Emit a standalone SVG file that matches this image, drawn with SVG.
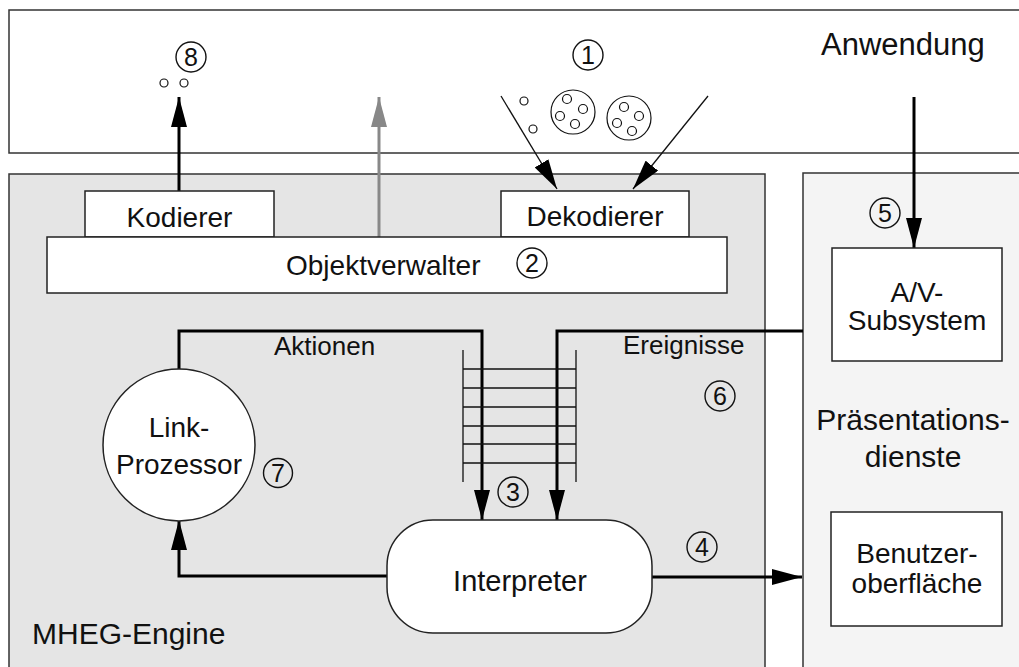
<svg xmlns="http://www.w3.org/2000/svg" width="1019" height="667" viewBox="0 0 1019 667">
  <style>
    text { font-family: "Liberation Sans", Arial, sans-serif; fill: #111; }
    .area { stroke: #333; stroke-width: 1.5; }
    .box { fill: #fff; stroke: #222; stroke-width: 1.5; }
    .lbl { font-size: 28px; text-anchor: middle; }
    .flow { fill: none; stroke: #000; stroke-width: 3; }
    .thin { fill: none; stroke: #111; stroke-width: 1.3; }
    .num circle { fill: none; stroke: #111; stroke-width: 1.4; }
    .num text { font-size: 25px; text-anchor: middle; }
    .dot { fill: #fff; stroke: #111; stroke-width: 1.2; }
  </style>
  <defs>
    <marker id="head" markerUnits="userSpaceOnUse" markerWidth="30" markerHeight="16" refX="30" refY="8" orient="auto" viewBox="0 0 30 16">
      <path d="M0,0 L30,8 L0,16 Z" fill="#000"/>
    </marker>
    <marker id="headGray" markerUnits="userSpaceOnUse" markerWidth="30" markerHeight="16" refX="30" refY="8" orient="auto" viewBox="0 0 30 16">
      <path d="M0,0 L30,8 L0,16 Z" fill="#888"/>
    </marker>
  </defs>

  <rect width="1019" height="667" fill="#fff"/>

  <!-- layers -->
  <g id="anwendung">
    <rect class="area" x="9" y="10" width="1040" height="143" fill="#fff"/>
    <text x="821" y="55" style="font-size:31px">Anwendung</text>
  </g>
  <g id="mheg-engine">
    <rect class="area" x="9" y="174" width="756" height="520" fill="#e5e5e5"/>
    <text x="32" y="644" style="font-size:30px">MHEG-Engine</text>
  </g>
  <g id="praesentationsdienste">
    <rect class="area" x="803" y="173" width="250" height="520" fill="#f4f4f4"/>
    <text class="lbl" x="913" y="430" style="font-size:30px">Präsentations-</text>
    <text class="lbl" x="913" y="467" style="font-size:30px">dienste</text>
  </g>

  <!-- data units entering the engine -->
  <g id="datenobjekte">
    <circle class="dot" cx="524" cy="101" r="4"/>
    <circle class="dot" cx="533" cy="129" r="4"/>
    <circle class="dot" cx="573" cy="112" r="22"/>
    <circle class="dot" cx="567" cy="99" r="4.5"/>
    <circle class="dot" cx="583" cy="109" r="4.5"/>
    <circle class="dot" cx="560" cy="116" r="4.5"/>
    <circle class="dot" cx="575" cy="124" r="4.5"/>
    <circle class="dot" cx="629" cy="118" r="22"/>
    <circle class="dot" cx="624" cy="107" r="4.5"/>
    <circle class="dot" cx="639" cy="116" r="4.5"/>
    <circle class="dot" cx="617" cy="123" r="4.5"/>
    <circle class="dot" cx="632" cy="131" r="4.5"/>
    <circle class="dot" cx="164" cy="83" r="4"/>
    <circle class="dot" cx="184" cy="83" r="4"/>
  </g>

  <!-- connectors -->
  <g id="connectors">
    <line class="thin" x1="501" y1="96" x2="557" y2="189" marker-end="url(#head)"/>
    <line class="thin" x1="708" y1="96" x2="633" y2="189" marker-end="url(#head)"/>
    <line class="flow" x1="179" y1="191" x2="179" y2="97" marker-end="url(#head)"/>
    <line x1="379" y1="237" x2="379" y2="97" stroke="#888" stroke-width="3" marker-end="url(#headGray)"/>
    <path class="flow" d="M179,369 V331 H482 V520" marker-end="url(#head)"/>
    <path class="flow" d="M803,331 H557 V520" marker-end="url(#head)"/>
    <path class="flow" d="M388,576 H179 V520" marker-end="url(#head)"/>
    <line class="flow" x1="652" y1="577" x2="802" y2="577" marker-end="url(#head)"/>
    <line class="flow" x1="914" y1="97" x2="914" y2="248" marker-end="url(#head)"/>
    <text x="274" y="355" style="font-size:26px">Aktionen</text>
    <text x="623" y="354" style="font-size:26px">Ereignisse</text>
  </g>

  <!-- event/action queue -->
  <g id="warteschlange">
    <path class="thin" d="M463,350 V482 M576,350 V482 M463,369 H576 M463,388 H576 M463,407 H576 M463,426 H576 M463,444 H576 M463,463 H576"/>
  </g>

  <!-- nodes -->
  <g id="kodierer">
    <rect class="box" x="85" y="191" width="189" height="46"/>
    <text class="lbl" x="179.5" y="227">Kodierer</text>
  </g>
  <g id="dekodierer">
    <rect class="box" x="501" y="191" width="188" height="46"/>
    <text class="lbl" x="595" y="226">Dekodierer</text>
  </g>
  <g id="objektverwalter">
    <rect class="box" x="47" y="237" width="680" height="56"/>
    <text x="286" y="275" style="font-size:28px">Objektverwalter</text>
  </g>
  <g id="link-prozessor">
    <circle class="box" cx="179" cy="445" r="76"/>
    <text class="lbl" x="179" y="437">Link-</text>
    <text class="lbl" x="179" y="474">Prozessor</text>
  </g>
  <g id="interpreter">
    <rect class="box" x="387" y="520" width="265" height="113" rx="46" ry="46"/>
    <text class="lbl" x="520" y="591" style="font-size:29px">Interpreter</text>
  </g>
  <g id="av-subsystem">
    <rect class="box" x="832" y="248" width="170" height="113"/>
    <text class="lbl" x="917" y="302">A/V-</text>
    <text class="lbl" x="917" y="330">Subsystem</text>
  </g>
  <g id="benutzeroberflaeche">
    <rect class="box" x="831" y="512" width="171" height="114"/>
    <text class="lbl" x="917" y="563">Benutzer-</text>
    <text class="lbl" x="917" y="593">oberfläche</text>
  </g>

  <!-- step numbers -->
  <g id="schritte" class="num">
    <circle cx="588" cy="55" r="15"/><text x="588" y="64">1</text>
    <circle cx="532" cy="263" r="15"/><text x="532" y="272">2</text>
    <circle cx="513" cy="492" r="15"/><text x="513" y="501">3</text>
    <circle cx="702" cy="547" r="15"/><text x="702" y="556">4</text>
    <circle cx="885" cy="213" r="15"/><text x="885" y="222">5</text>
    <circle cx="720" cy="396" r="15"/><text x="720" y="405">6</text>
    <circle cx="278" cy="473" r="14.5"/><text x="278" y="482">7</text>
    <circle cx="191" cy="57" r="15"/><text x="191" y="66">8</text>
  </g>
</svg>
